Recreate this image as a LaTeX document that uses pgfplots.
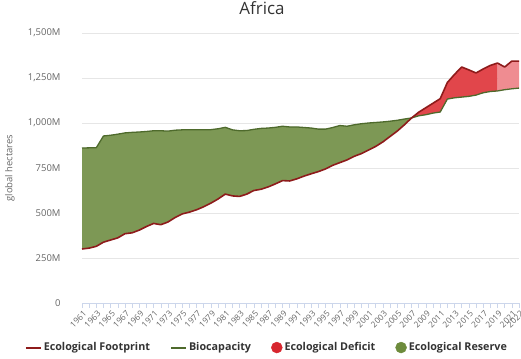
\documentclass[border=0pt]{standalone}
\usepackage{fontspec}
\setmainfont{Open Sans}
\usepackage{pgfplots}
\usepackage{pgfplotstable}
\pgfplotsset{compat=1.18}
\usepgfplotslibrary{fillbetween}
\usetikzlibrary{calc}
\definecolor{fpline}{HTML}{8E1B1B}
\definecolor{bcline}{HTML}{4E6A2C}
\definecolor{resfill}{HTML}{7D9855}
\definecolor{deffill}{HTML}{E1464B}
\definecolor{projfill}{HTML}{EF8C91}
\definecolor{defmark}{HTML}{D7262E}
\definecolor{resmark}{HTML}{6D8B3C}
\definecolor{gridc}{HTML}{E6E6E6}
\definecolor{axisc}{HTML}{CCD6EB}
\definecolor{labc}{HTML}{666666}
\definecolor{legc}{HTML}{333333}
\pgfplotstableread{
year fp bc
1961 300 861
1962 305 862
1963 315 863
1964 338 928
1965 350 932
1966 362 938
1967 385 945
1968 390 948
1969 405 950
1970 425 953
1971 442 957
1972 435 957
1973 450 955
1974 475 960
1975 495 962
1976 505 962
1977 518 962
1978 535 962
1979 555 963
1980 578 968
1981 605 976
1982 595 962
1983 592 957
1984 605 958
1985 625 965
1986 632 970
1987 645 972
1988 662 976
1989 680 982
1990 678 978
1991 690 978
1992 705 975
1993 718 972
1994 730 966
1995 745 966
1996 765 975
1997 780 986
1998 795 982
1999 815 990
2000 830 996
2001 850 1000
2002 870 1003
2003 895 1006
2004 925 1010
2005 955 1015
2006 990 1022
2007 1028 1028
2008 1060 1040
2009 1085 1046
2010 1110 1055
2011 1135 1061
2012 1225 1133
2013 1270 1140
2014 1311 1144
2015 1295 1148
2016 1278 1155
2017 1300 1168
2018 1320 1175
2019 1333 1178
2020 1311 1185
2021 1344 1190
2022 1344 1194
}\data
\begin{document}
\begin{tikzpicture}
\begin{axis}[
  scale only axis,
  width=437bp, height=270bp,
  xmin=1961, xmax=2022,
  ymin=0, ymax=1500,
  axis lines*=left,
  x axis line style={draw=axisc, line width=0.8bp},
  y axis line style={draw=none},
  ytick={0,250,500,750,1000,1250,1500},
  yticklabels={0,250M,500M,750M,{1,000M},{1,250M},{1,500M}},
  ymajorgrids,
  grid style={draw=gridc, line width=0.8bp},
  ytick style={draw=none},
  xtick={1961,1963,...,2021,2022},
  xticklabels={1961,1963,1965,1967,1969,1971,1973,1975,1977,1979,1981,1983,1985,1987,1989,1991,1993,1995,1997,1999,2001,2003,2005,2007,2009,2011,2013,2015,2017,2019,2021,2022},
  minor xtick={1962,1964,...,2020},
  tick align=outside,
  major tick length=5bp, minor tick length=5bp,
  xtick style={draw=axisc, line width=0.6bp},
  minor x tick style={draw=axisc, line width=0.6bp},
  xticklabel style={rotate=45, anchor=north east, font=\fontsize{8.3}{9}\selectfont, text=labc, inner sep=1bp, yshift=-1bp},
  yticklabel style={font=\fontsize{9.5}{11}\selectfont, text=labc, xshift=-13bp},
  ylabel={global hectares},
  every axis y label/.style={at={(rel axis cs:-0.165,0.5)}, rotate=90, anchor=center, font=\fontsize{9.5}{11}\selectfont, text=labc},
  title={Africa},
  title style={font=\fontsize{17}{19}\selectfont, text=legc, at={(rel axis cs:0.412,1)}, anchor=base, yshift=13bp},
  legend style={draw=none, fill=none, at={(rel axis cs:0.423,-0.165)}, anchor=center, font=\fontsize{10.8}{12}\selectfont\bfseries, text=legc, legend cell align=left, inner sep=0pt},
  legend columns=4,
  legend image code/.code={\draw[#1] (0bp,0bp) -- (15bp,0bp);},
  /tikz/every even column/.append style={column sep=18bp},
  clip=false,
]
\addlegendimage{fpline, line width=2bp}
\addlegendentry{Ecological Footprint}
\addlegendimage{bcline, line width=2bp}
\addlegendentry{Biocapacity}
\addlegendimage{legend image code/.code={\fill[defmark] (7bp,0bp) circle (5.5bp);}}
\addlegendentry{Ecological Deficit}
\addlegendimage{legend image code/.code={\fill[resmark] (7bp,0bp) circle (5.5bp);}}
\addlegendentry{Ecological Reserve}

\addplot[draw=none, name path=fp, forget plot] table[x=year, y=fp] {\data};
\addplot[draw=none, name path=bc, forget plot] table[x=year, y=bc] {\data};
\addplot[fill=resfill, draw=none, forget plot] fill between[of=fp and bc, soft clip={domain=1961:2007}];
\addplot[fill=deffill, draw=none, forget plot] fill between[of=fp and bc, soft clip={domain=2007:2019}];
\addplot[fill=projfill, draw=none, forget plot] fill between[of=fp and bc, soft clip={domain=2019:2022}];
\addplot[bcline, line width=1.3bp, forget plot, line join=round] table[x=year, y=bc] {\data};
\addplot[fpline, line width=1.6bp, forget plot, line join=round] table[x=year, y=fp] {\data};
\coordinate (LL) at (rel axis cs:0,0);
\coordinate (UR) at (rel axis cs:1,1);
\end{axis}
\pgfresetboundingbox
\path[use as bounding box] ($(LL)+(-82bp,-55bp)$) rectangle ($(UR)+(2bp,33bp)$);
\end{tikzpicture}
\end{document}
